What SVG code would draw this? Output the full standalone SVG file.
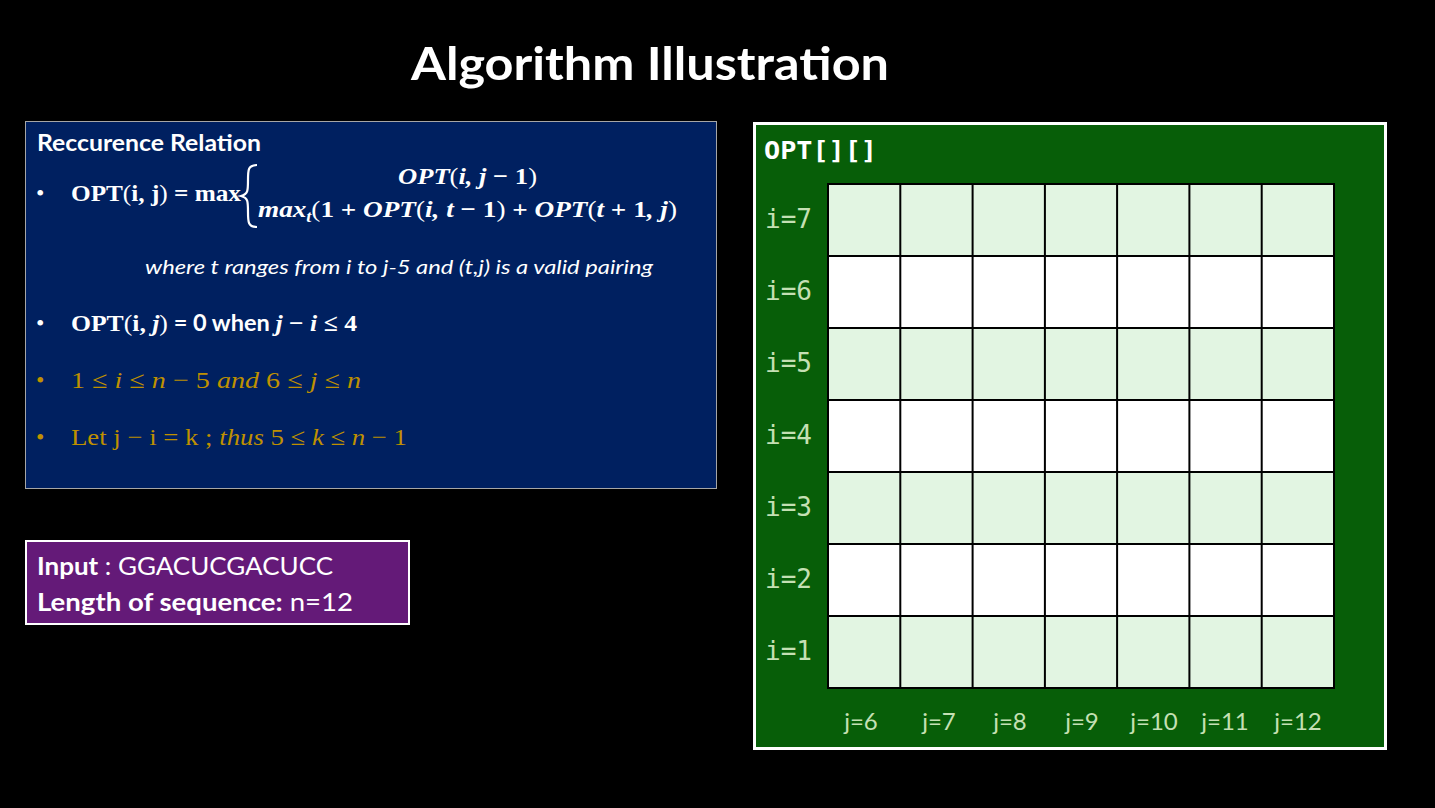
<svg xmlns="http://www.w3.org/2000/svg" width="1435" height="808" viewBox="0 0 1435 808">
  <style>
    .title { font-family: Lato, "Open Sans", sans-serif; font-weight: 700; font-size: 46px; fill: #ffffff; }
    .head { font-family: Lato, "Open Sans", sans-serif; font-weight: 700; font-size: 22px; fill: #ffffff; }
    .math { font-family: "Liberation Serif", "DejaVu Serif", serif; font-size: 24px; fill: #ffffff; }
    .mb { font-weight: 700; }
    .mi { font-style: italic; }
    .gold { fill: #bf9000; }
    .note { font-family: Lato, "Open Sans", sans-serif; font-style: italic; font-size: 20px; fill: #ffffff; }
    .inp { font-family: Lato, "Open Sans", sans-serif; font-size: 25px; fill: #ffffff; }
    .optlbl { font-family: "DejaVu Sans Mono", "Liberation Mono", monospace; font-weight: 700; font-size: 24px; fill: #ffffff; }
    .rowlbl { font-family: "DejaVu Sans Mono", "Liberation Mono", monospace; font-size: 26px; fill: #c5e0b4; }
    .collbl { font-family: Lato, "Open Sans", sans-serif; font-size: 24px; fill: #c5e0b4; text-anchor: middle; }
    .cellA { fill: #e2f5e2; }
    .cellB { fill: #ffffff; }
    .grid { stroke: #000000; stroke-width: 2; fill: none; }
  </style>

  <rect x="0" y="0" width="1435" height="808" fill="#000000"/>

  <text class="title" x="650" y="80" text-anchor="middle" textLength="478" lengthAdjust="spacingAndGlyphs">Algorithm Illustration</text>

  <!-- Recurrence relation panel -->
  <g id="recurrence">
    <rect x="25.5" y="121.5" width="691" height="367" fill="#002060" stroke="#a6a6a6" stroke-width="1"/>
    <text class="head" x="37" y="151" textLength="224" lengthAdjust="spacingAndGlyphs">Reccurence Relation</text>

    <text class="math" x="36" y="201">•</text>
    <text class="math mb" x="71" y="201" textLength="170" lengthAdjust="spacingAndGlyphs">OPT<tspan font-weight="400">(</tspan>i, j<tspan font-weight="400">)</tspan> = max</text>
    <path d="M257,165 C248,165 248,170 248,180 C248,191 248,194 241,196 C248,198 248,201 248,212 C248,222 248,227 257,227" fill="none" stroke="#ffffff" stroke-width="2.2"/>
    <text class="math mb mi" x="398" y="184" textLength="139" lengthAdjust="spacingAndGlyphs">OPT<tspan font-style="normal" font-weight="400">(</tspan>i, j <tspan font-style="normal">−</tspan> <tspan font-style="normal">1</tspan><tspan font-style="normal" font-weight="400">)</tspan></text>
    <text class="math mb mi" x="258" y="217" textLength="419" lengthAdjust="spacingAndGlyphs">max<tspan font-size="16" dy="5">t</tspan><tspan font-style="normal" font-weight="400" dy="-5">(</tspan><tspan font-style="normal">1 + </tspan>OPT<tspan font-style="normal" font-weight="400">(</tspan>i, t <tspan font-style="normal">− 1</tspan><tspan font-style="normal" font-weight="400">)</tspan><tspan font-style="normal"> + </tspan>OPT<tspan font-style="normal" font-weight="400">(</tspan>t <tspan font-style="normal">+ 1</tspan>, j<tspan font-style="normal" font-weight="400">)</tspan></text>

    <text class="note" x="145" y="274" textLength="508" lengthAdjust="spacingAndGlyphs">where t ranges from i to j-5 and (t,j) is a valid pairing</text>

    <text class="math" x="36" y="331">•</text>
    <text class="math mb" x="71" y="331" textLength="286" lengthAdjust="spacingAndGlyphs">OPT<tspan font-weight="400">(</tspan>i, <tspan font-style="italic">j</tspan><tspan font-weight="400">)</tspan><tspan font-family="Lato, sans-serif" font-size="22"> = 0 when </tspan><tspan font-style="italic">j</tspan> − <tspan font-style="italic">i</tspan> ≤ 4</text>

    <text class="math gold" x="36" y="388">•</text>
    <text class="math gold" x="71" y="388" textLength="290" lengthAdjust="spacingAndGlyphs">1 ≤ <tspan font-style="italic">i</tspan> ≤ <tspan font-style="italic">n</tspan> − 5 <tspan font-style="italic">and</tspan> 6 ≤ <tspan font-style="italic">j</tspan> ≤ <tspan font-style="italic">n</tspan></text>

    <text class="math gold" x="36" y="445">•</text>
    <text class="math gold" x="71" y="445" textLength="336" lengthAdjust="spacingAndGlyphs">Let j − i = k ; <tspan font-style="italic">thus</tspan> 5 ≤ <tspan font-style="italic">k</tspan> ≤ <tspan font-style="italic">n</tspan> − 1</text>
  </g>

  <!-- Input panel -->
  <g id="input">
    <rect x="26" y="541" width="383" height="83" fill="#641a78" stroke="#ffffff" stroke-width="2"/>
    <text class="inp" x="37" y="575" textLength="296" lengthAdjust="spacingAndGlyphs"><tspan font-weight="700">Input</tspan> : GGACUCGACUCC</text>
    <text class="inp" x="37" y="611" textLength="316" lengthAdjust="spacingAndGlyphs"><tspan font-weight="700">Length of sequence:</tspan> n=12</text>
  </g>

  <!-- OPT table panel -->
  <g id="opt-table">
    <rect x="754.5" y="123.5" width="631" height="625" fill="#075e08" stroke="#ffffff" stroke-width="3"/>
    <text class="optlbl" x="764" y="159" textLength="113" lengthAdjust="spacingAndGlyphs">OPT[][]</text>

    <!-- row bands, i=7 at top -->
    <rect class="cellA" x="828" y="184" width="506" height="72"/>
    <rect class="cellB" x="828" y="256" width="506" height="72"/>
    <rect class="cellA" x="828" y="328" width="506" height="72"/>
    <rect class="cellB" x="828" y="400" width="506" height="72"/>
    <rect class="cellA" x="828" y="472" width="506" height="72"/>
    <rect class="cellB" x="828" y="544" width="506" height="72"/>
    <rect class="cellA" x="828" y="616" width="506" height="72"/>

    <g class="grid">
      <rect x="828" y="184" width="506" height="504"/>
      <path d="M828,256H1334M828,328H1334M828,400H1334M828,472H1334M828,544H1334M828,616H1334"/>
      <path d="M900.3,184V688M972.6,184V688M1044.9,184V688M1117.1,184V688M1189.4,184V688M1261.7,184V688"/>
    </g>

    <text class="rowlbl" x="765" y="228" textLength="47" lengthAdjust="spacingAndGlyphs">i=7</text>
    <text class="rowlbl" x="765" y="300" textLength="47" lengthAdjust="spacingAndGlyphs">i=6</text>
    <text class="rowlbl" x="765" y="372" textLength="47" lengthAdjust="spacingAndGlyphs">i=5</text>
    <text class="rowlbl" x="765" y="444" textLength="47" lengthAdjust="spacingAndGlyphs">i=4</text>
    <text class="rowlbl" x="765" y="516" textLength="47" lengthAdjust="spacingAndGlyphs">i=3</text>
    <text class="rowlbl" x="765" y="588" textLength="47" lengthAdjust="spacingAndGlyphs">i=2</text>
    <text class="rowlbl" x="765" y="660" textLength="47" lengthAdjust="spacingAndGlyphs">i=1</text>

    <text class="collbl" x="861" y="730">j=6</text>
    <text class="collbl" x="939" y="730">j=7</text>
    <text class="collbl" x="1010" y="730">j=8</text>
    <text class="collbl" x="1082" y="730">j=9</text>
    <text class="collbl" x="1154" y="730">j=10</text>
    <text class="collbl" x="1225" y="730">j=11</text>
    <text class="collbl" x="1298" y="730">j=12</text>
  </g>
</svg>
